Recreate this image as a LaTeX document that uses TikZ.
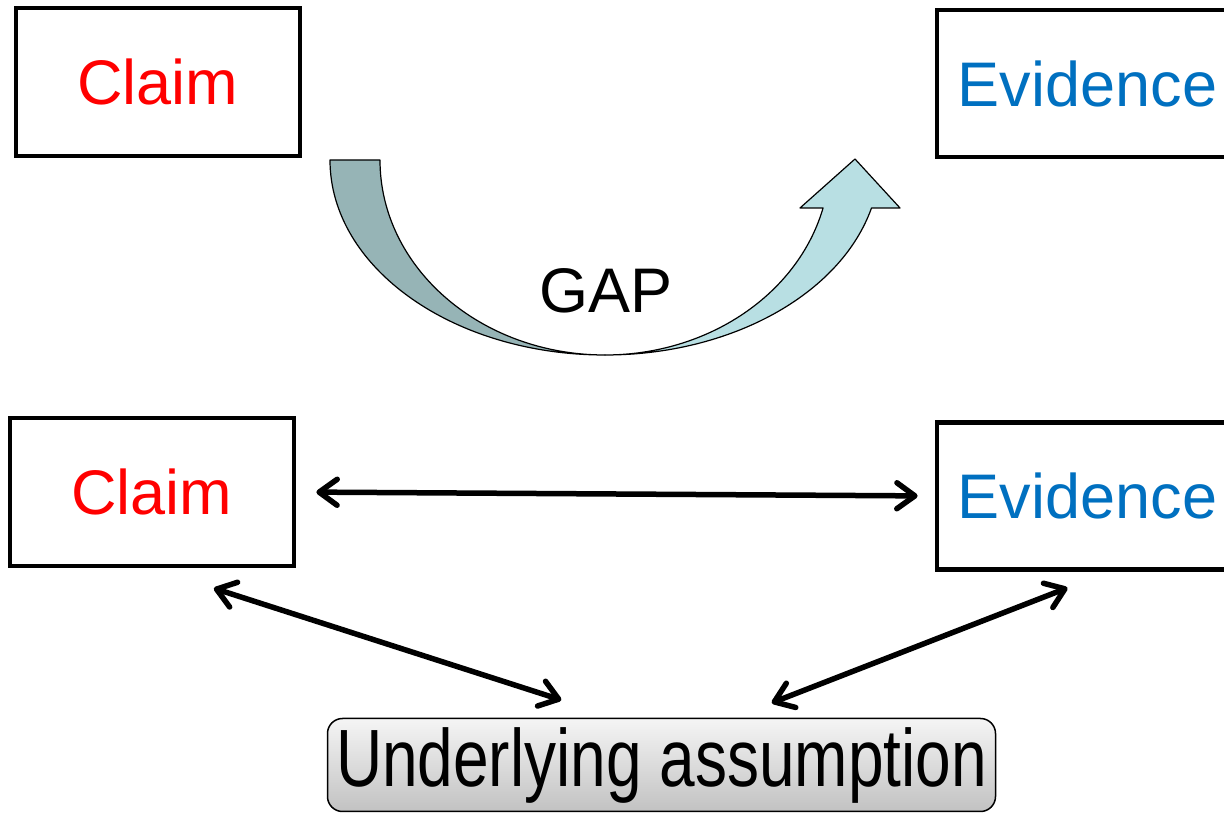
\documentclass[tikz,border=0pt]{standalone}
\usepackage{fontspec}
\setmainfont{Liberation Sans}
\usepackage{graphicx}
\usetikzlibrary{arrows.meta}
\definecolor{claimred}{RGB}{255,0,0}
\definecolor{evblue}{RGB}{0,112,192}
\definecolor{backband}{RGB}{150,180,182}
\definecolor{frontband}{RGB}{184,223,227}

\begin{document}
\begin{tikzpicture}[x=1pt,y=1pt,
  bigtext/.style={font=\fontsize{63}{70}\selectfont},
  box/.style={draw=black, line width=4.8pt, fill=white, inner sep=0pt, bigtext},
  claimbox/.style={box, text=claimred, minimum width=284pt, minimum height=148pt},
  evbox/.style={box, text=evblue, minimum width=301pt, minimum height=147pt},
  band/.style={draw=black, line width=1.2pt, line join=round},
  link/.style={line width=5.5pt, line cap=round,
    {Straight Barb[length=18pt,width=26pt,round]}-{Straight Barb[length=18pt,width=26pt,round]}},
  assume/.style={draw=black, line width=1.5pt, rounded corners=15pt,
    top color=gray!8, bottom color=gray!48, minimum width=668pt,
    minimum height=93pt, inner sep=0pt,
    font=\fontsize{64}{70}\selectfont}
]
\useasboundingbox (0,0) rectangle (1224,814);
\clip (0,0) rectangle (1224,814);

% upper row
\node[claimbox] (c1) at (158,732) {Claim};
\node[evbox] (e1) at (1087.5,730.5) {Evidence};

% curved arrow: receding band
\path[band, fill=backband]
  (330,654) -- (380,654)
  arc[start angle=180, end angle=270, x radius=225, y radius=195]
  arc[start angle=270, end angle=180, x radius=275, y radius=195]
  -- cycle;
% curved arrow: front band with head
\path[band, fill=frontband]
  (605,459)
  arc[start angle=270, end angle=345.75, x radius=225, y radius=195]
  -- (800,606) -- (855,655) -- (900,606) -- (871.5,606)
  arc[start angle=345.75, end angle=270, x radius=275, y radius=195]
  -- cycle;
\node[bigtext, anchor=base] (gap) at (606,501) {GAP};

% lower row
\node[claimbox] (c2) at (152,322) {Claim};
\node[evbox] (e2) at (1087.5,318) {Evidence};
\node[assume] (u) at (661.5,49) {\scalebox{1}[1.27]{Underlying assumption}};

\draw[link, shorten <=20pt, shorten >=17pt] (c2.east) -- (e2.west);
\draw[link, shorten <=65pt, shorten >=58pt] (c2.south) -- ([xshift=-45pt]u.north);
\draw[link, shorten <=44pt, shorten >=41pt] ([xshift=21pt]e2.south) -- ([xshift=72pt]u.north);
\end{tikzpicture}
\end{document}
